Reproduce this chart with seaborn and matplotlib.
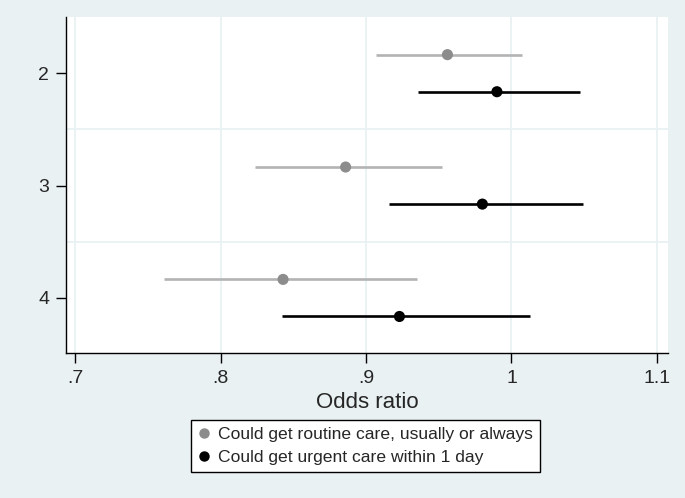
import numpy as np
import pandas as pd
import seaborn as sns
import matplotlib.pyplot as plt

# values
groups = [2, 3, 4]
routine_or = [0.956, 0.886, 0.843]
routine_lo = [0.907, 0.824, 0.761]
routine_hi = [1.007, 0.952, 0.935]
urgent_or = [0.990, 0.980, 0.923]
urgent_lo = [0.936, 0.916, 0.842]
urgent_hi = [1.047, 1.049, 1.013]
series_names = ["Could get routine care, usually or always",
                "Could get urgent care within 1 day"]
x_ticks = [0.7, 0.8, 0.9, 1.0, 1.1]
x_ticklabels = [".7", ".8", ".9", "1", "1.1"]

sns.set_style("white")
plt.rcParams['font.family'] = ['Liberation Sans', 'DejaVu Sans']

bg = '#e9f1f2'
offset = 0.165
line_cols = ['#b3b3b3', '#000000']
dot_cols = ['#8c8c8c', '#000000']

rows = []
for i, g in enumerate(groups):
    rows.append(dict(series=series_names[0], y=g - offset, est=routine_or[i],
                     lo=routine_lo[i], hi=routine_hi[i]))
    rows.append(dict(series=series_names[1], y=g + offset, est=urgent_or[i],
                     lo=urgent_lo[i], hi=urgent_hi[i]))
df = pd.DataFrame(rows)

fig = plt.figure(figsize=(6.85, 4.98), dpi=100, facecolor=bg)
ax = fig.add_axes([66 / 685, 1 - 353 / 498, (668 - 66) / 685, (353 - 17) / 498])
ax.set_facecolor('white')

# grid
for xv in x_ticks:
    ax.axvline(xv, color=bg, lw=1.3, zorder=0)
for yv in [2.5, 3.5]:
    ax.axhline(yv, color=bg, lw=1.3, zorder=0)

for name, lc in zip(series_names, line_cols):
    sub = df[df.series == name]
    ax.hlines(sub.y, sub.lo, sub.hi, color=lc, lw=1.9, zorder=2)

sns.scatterplot(data=df, x='est', y='y', hue='series', palette=dot_cols,
                s=64, edgecolor='none', ax=ax, zorder=3, legend=False)

ax.set_xlim(0.6938, 1.1076)
ax.set_ylim(4.49, 1.5)
ax.set_xticks(x_ticks)
ax.set_xticklabels(x_ticklabels, fontsize=14)
ax.set_yticks(groups)
ax.set_yticklabels([str(g) for g in groups], fontsize=14)
ax.tick_params(axis='both', direction='out', length=7, width=1, color='black',
               left=True, bottom=True, pad=5)
ax.set_xlabel('Odds ratio', fontsize=16, labelpad=4)
ax.set_ylabel('')

for side in ['top', 'right']:
    ax.spines[side].set_visible(False)
for side in ['left', 'bottom']:
    ax.spines[side].set_color('black')
    ax.spines[side].set_linewidth(1.0)

handles = [plt.Line2D([], [], marker='o', ls='none', color=c, markersize=6.5)
           for c in dot_cols]
leg = fig.legend(handles, series_names, loc='center', bbox_to_anchor=(365.5 / 685, 1 - 446 / 498),
                 fontsize=12.6, frameon=True, fancybox=False, edgecolor='black',
                 handlelength=0.6, handletextpad=0.5, borderpad=0.4, labelspacing=0.45,
                 framealpha=1)
leg.get_frame().set_linewidth(1.0)

fig.savefig('out.png', dpi=100, facecolor=bg)
